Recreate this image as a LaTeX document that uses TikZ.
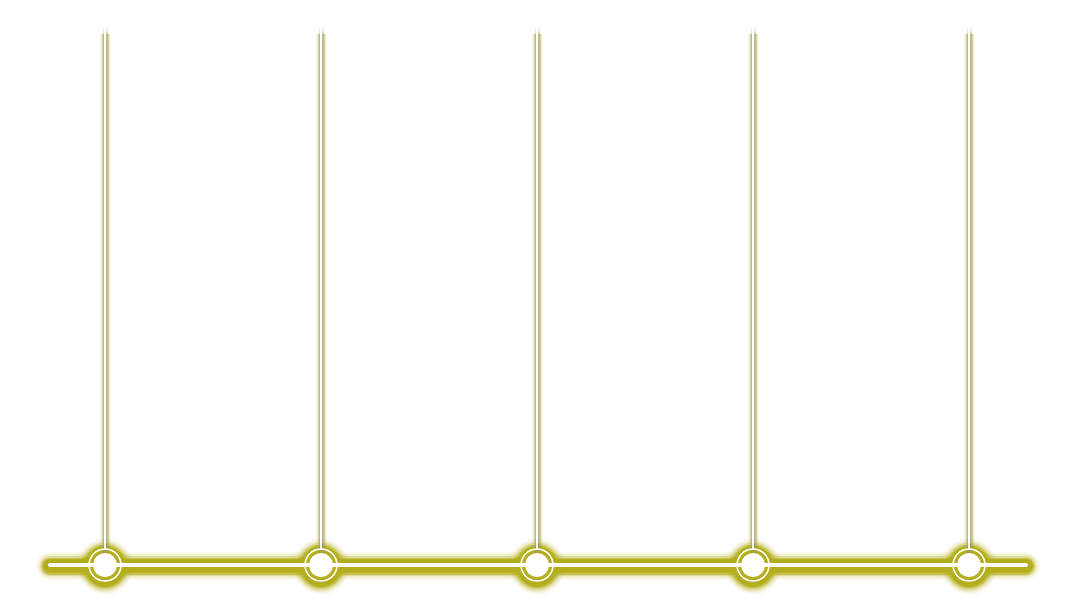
\documentclass[tikz,border=0pt]{standalone}
\begin{document}
\begin{tikzpicture}[x=1pt,y=-1pt,
  glowc/.style={color={rgb,255:red,181;green,174;blue,28}},
  vglowc/.style={color={rgb,255:red,165;green,160;blue,70}},
  hglow/.style={glowc,line cap=round},
  vglow/.style={vglowc,line cap=butt},
  dot/.style={circle,inner sep=0pt,minimum size=24pt,fill=white,draw=none}]
\useasboundingbox (0,0) rectangle (1076,610);
% horizontal glow
\foreach \w/\o in {28/0.08,24/0.15,20/0.3,17/0.55,14/0.85,12/1}{
  \draw[hglow,line width=\w pt,opacity=\o] (50,566) -- (1026,566);}
% circle glows
\foreach \x in {105,321,537,753,969}{
  \foreach \r/\o in {28/0.08,26/0.15,24/0.3,22/0.55,20.5/0.85,19.5/1}{
    \fill[glowc,opacity=\o] (\x,566.5) circle (\r);}
}
% vertical glows
\foreach \x in {105,321,537,753,969}{
  \foreach \w/\o in {11/0.08,9/0.15,7/0.3,5/0.5}{
    \draw[vglow,line width=\w pt,opacity=\o] (\x,34) -- (\x,560);}
  \foreach \y/\o in {26/0.15,28/0.3,30/0.5,32/0.75}{
    \draw[vglow,line width=5pt,opacity=0.5*\o] (\x,\y) -- (\x,\y+2);}
}
% white horizontal core
\coordinate (L) at (50,565);
\coordinate (R) at (1026,565);
\draw[white,line width=4pt,line cap=round] (L) -- (R);
% nodes and verticals
\foreach \i/\x in {1/105,2/321,3/537,4/753,5/969}{
  \coordinate (t\i) at (\x,28);
  \node[dot] (n\i) at (\x,565) {};
  \draw[white,line width=2.2pt] (t\i) -- (\x,549);
  \draw[white,line width=1.5pt] (n\i.center) circle (16);
}
\end{tikzpicture}
\end{document}
